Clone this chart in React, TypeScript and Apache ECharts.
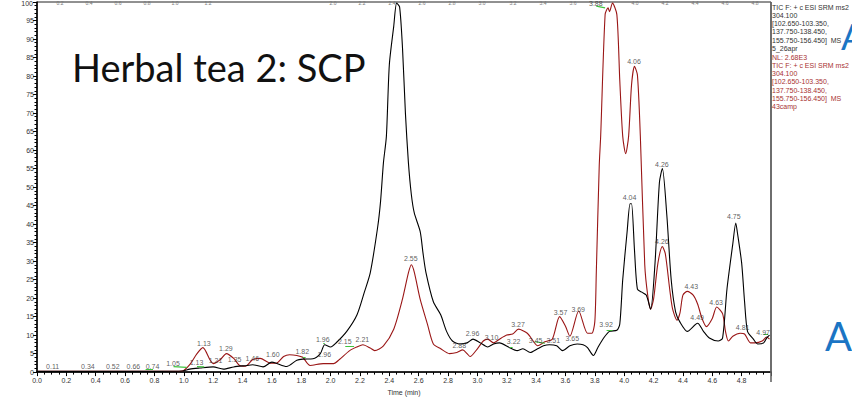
import React, { useEffect, useRef } from "react";
import * as echarts from "echarts";

// Black trace (upper file, 5_26apr): [time (min), relative abundance]
const blackTrace: number[][] = [
  [0, 0.2], [0.43, 0.2], [0.84, 0.2], [0.99, 0.3], [1.04, 0.8], [1.11, 1.1], [1.2, 1.4], [1.27, 0.8],
  [1.34, 1.4], [1.43, 1.8], [1.47, 2.0], [1.54, 1.4], [1.6, 2.7], [1.63, 2.4], [1.7, 1.5], [1.77, 3.2],
  [1.81, 3.5], [1.88, 3.6], [1.93, 5.0], [1.96, 7.4], [2.0, 6.8], [2.04, 8.0], [2.11, 11], [2.18, 15.5],
  [2.23, 21.6], [2.27, 26.8], [2.32, 39], [2.34, 46], [2.36, 56.6], [2.38, 63.7], [2.4, 83], [2.43, 93.4],
  [2.45, 99.7], [2.47, 98.7], [2.49, 87.4], [2.51, 69.7], [2.53, 56.6], [2.55, 48], [2.57, 43], [2.61, 38],
  [2.63, 32], [2.65, 26.8], [2.7, 19], [2.75, 15.5], [2.79, 11], [2.83, 8.4], [2.88, 7.6], [2.93, 7.9],
  [2.97, 8.9], [3.02, 7.9], [3.07, 6.8], [3.11, 7.6], [3.15, 7.9], [3.22, 6.6], [3.27, 5.8], [3.31, 6.3],
  [3.36, 5.3], [3.41, 6.3], [3.45, 7.1], [3.49, 7.4], [3.54, 7.1], [3.58, 5.8], [3.63, 7.1], [3.68, 7.6],
  [3.72, 7.4], [3.75, 6.6], [3.79, 4.5], [3.82, 6.6], [3.86, 9.2], [3.9, 11], [3.95, 11.3], [3.97, 13],
  [3.99, 25], [4.02, 38], [4.04, 45.5], [4.05, 45.5], [4.07, 33], [4.09, 22.4], [4.12, 21.6], [4.15, 20.8],
  [4.18, 17], [4.21, 29.5], [4.24, 51.3], [4.26, 55], [4.29, 42.6], [4.32, 25], [4.35, 16.3], [4.38, 13.5],
  [4.43, 11], [4.5, 13.2], [4.54, 11], [4.58, 9.2], [4.64, 8.4], [4.67, 9.2], [4.7, 22.4], [4.74, 34.7],
  [4.76, 40.3], [4.77, 38], [4.8, 29.5], [4.82, 19], [4.84, 11], [4.88, 8.9], [4.91, 7.6], [4.95, 7.9],
  [4.97, 9.2], [4.99, 10],
];

// Red trace (lower file, 43camp)
const redTrace: number[][] = [
  [0, 0.2], [0.43, 0.2], [0.84, 0.2], [0.99, 0.3], [1.04, 2], [1.09, 5], [1.13, 6.6], [1.18, 3.2],
  [1.2, 2.3], [1.25, 3.4], [1.29, 5.0], [1.34, 3.7], [1.38, 1.8], [1.42, 1.6], [1.47, 3.4], [1.52, 3.7],
  [1.59, 2.4], [1.63, 2.4], [1.68, 4.2], [1.72, 4.7], [1.77, 4.5], [1.81, 4.0], [1.86, 1.8], [1.95, 2.3],
  [2.02, 2.3], [2.06, 3.4], [2.13, 5.8], [2.18, 6.8], [2.22, 7.4], [2.27, 6.5], [2.3, 5.8], [2.36, 7.1],
  [2.43, 11.6], [2.49, 19.8], [2.53, 26.8], [2.55, 29], [2.57, 27], [2.61, 19.7], [2.66, 12.9], [2.7, 7.6],
  [2.75, 6.3], [2.81, 5.0], [2.86, 5.3], [2.9, 6.0], [2.93, 5.0], [2.95, 4.2], [3.0, 6.3], [3.04, 8.4],
  [3.07, 8.9], [3.11, 7.9], [3.15, 8.9], [3.2, 10], [3.24, 10.3], [3.28, 11.6], [3.34, 10.5], [3.38, 8.4],
  [3.41, 7.1], [3.46, 8.2], [3.51, 8.9], [3.56, 15], [3.6, 12.4], [3.63, 9.7], [3.69, 16.5], [3.75, 10.5],
  [3.78, 10.5], [3.8, 13.7], [3.81, 27], [3.83, 55.8], [3.84, 64], [3.87, 96.6], [3.89, 98.4], [3.9, 97.4],
  [3.92, 99.7], [3.95, 96.6], [3.97, 78.7], [3.99, 63.7], [4.01, 59], [4.03, 63.7], [4.05, 77.6], [4.07, 82.6],
  [4.09, 80.3], [4.11, 63.7], [4.14, 29], [4.16, 20.8], [4.18, 17], [4.2, 19.7], [4.23, 29.5], [4.26, 33.9],
  [4.28, 32], [4.31, 22.4], [4.33, 17], [4.36, 14], [4.38, 16], [4.4, 20.8], [4.43, 21.8], [4.47, 20.8],
  [4.5, 18.4], [4.53, 14.5], [4.56, 12.3], [4.6, 14.5], [4.63, 17.6], [4.67, 15.8], [4.69, 11], [4.71, 8.4],
  [4.74, 9.7], [4.79, 10.5], [4.82, 10.3], [4.86, 7.9], [4.89, 7.9], [4.94, 8.4], [4.97, 9.5], [4.99, 8.9],
];

// Peak retention-time annotations: [time, value at label centre, text]
const peakLabels: [number, number, string][] = [
  [0.11, 1.4, "0.11"], [0.35, 1.4, "0.34"], [0.52, 1.4, "0.52"], [0.66, 1.4, "0.66"], [0.79, 1.4, "0.74"],
  [0.93, 2.3, "1.05"], [1.09, 2.5, "1.13"], [1.14, 7.7, "1.13"], [1.22, 2.9, "1.21"], [1.29, 6.2, "1.29"],
  [1.35, 3.2, "1.35"], [1.47, 3.6, "1.46"], [1.61, 4.6, "1.60"], [1.81, 5.3, "1.82"], [1.95, 8.7, "1.96"],
  [1.96, 4.5, "1.96"], [2.1, 8.0, "2.15"], [2.22, 8.7, "2.21"], [2.55, 30.5, "2.55"], [2.88, 7.1, "2.88"],
  [2.97, 10.2, "2.96"], [3.1, 9.3, "3.10"], [3.25, 8.2, "3.22"], [3.28, 12.8, "3.27"], [3.4, 8.4, "3.45"],
  [3.52, 8.4, "3.51"], [3.57, 16.1, "3.57"], [3.65, 8.9, "3.65"], [3.69, 16.9, "3.69"], [3.88, 12.6, "3.92"],
  [3.81, 99.5, "3.88"], [4.07, 83.9, "4.06"], [4.04, 47, "4.04"], [4.26, 56, "4.26"], [4.26, 35.2, "4.26"],
  [4.75, 41.8, "4.75"], [4.46, 22.9, "4.43"], [4.5, 14.6, "4.49"], [4.63, 18.8, "4.63"], [4.81, 11.9, "4.81"],
  [4.95, 10.6, "4.97"],
];

// Green integration baseline marks: [t1, v1, t2, v2]
const baselineMarks: number[][] = [
  [0.74, 0.8, 0.79, 0.8], [0.93, 1.5, 1.02, 1.3], [1.09, 1.5, 1.14, 1.4], [1.81, 4.0, 1.83, 4.0],
  [1.95, 7.7, 1.96, 7.7], [2.1, 7.1, 2.16, 7.1], [3.22, 6.8, 3.24, 6.8], [3.39, 8.2, 3.46, 7.8],
  [3.88, 11.4, 3.92, 11.4], [3.81, 98.9, 3.87, 98.4], [4.95, 10.3, 4.98, 10.3],
];

const infoBlack = ["TIC F: + c ESI SRM ms2", "304.100", "[102.650-103.350,", "137.750-138.450,", "155.750-156.450]  MS", "5_26apr"];
const infoRed = ["NL: 2.68E3", "TIC F: + c ESI SRM ms2", "304.100", "[102.650-103.350,", "137.750-138.450,", "155.750-156.450]  MS", "43camp"];
const topFragmentTexts = ["0.2", "0.4", "0.6", "0.8", "1.0", "1.2", "2.0", "2.2", "2.4", "2.6", "2.8", "3.0", "3.2", "3.4", "3.6", "4.0", "4.2", "4.4", "4.6", "4.8"];
const topFragmentX = [60, 89, 118, 147, 175, 208, 333, 362, 392, 422, 452, 482, 513, 543, 573, 635, 665, 695, 725, 755];

const FONT = "'Liberation Sans', Arial, sans-serif";
const BLACK = "#000000";
const RED = "#9a1616";

export default function App() {
  const ref = useRef<HTMLDivElement>(null);
  useEffect(() => {
    if (!ref.current) return;
    const chart = echarts.init(ref.current, undefined, { renderer: "svg" });
    const graphics: any[] = [];
    graphics.push({
      type: "text", left: 72, top: 48, z: 10,
      style: { text: "Herbal tea 2: SCP", font: "38px Lato, 'Open Sans', sans-serif", fill: "#111" },
    });
    infoBlack.forEach((s, i) => {
      graphics.push({ type: "text", x: 772, y: 7 + i * 8.25, style: { text: s, font: `7px ${FONT}`, fill: "#333", verticalAlign: "middle" }, z: 12 });
    });
    infoRed.forEach((s, i) => {
      graphics.push({ type: "text", x: 772, y: 57 + i * 8.3, style: { text: s, font: `7px ${FONT}`, fill: "#a83232", verticalAlign: "middle" }, z: 12 });
    });
    graphics.push({ type: "text", x: 841, y: 54, style: { text: "A", font: "36px Lato, sans-serif", fill: "#1b75c4", verticalAlign: "bottom" }, z: 5 });
    graphics.push({ type: "text", x: 825, y: 356, style: { text: "A", font: "40px Lato, sans-serif", fill: "#1b75c4", verticalAlign: "bottom" }, z: 5 });
    // top-of-image fragments of the previous chart's time axis
    topFragmentTexts.forEach((s, i) => {
      graphics.push({ type: "text", x: topFragmentX[i], y: 0, style: { text: s, font: `5px ${FONT}`, fill: "#777", align: "center", verticalAlign: "top" }, z: 1 });
    });
    // "100" label of the y axis, kept inside the picture
    graphics.push({ type: "text", x: 33, y: 0, style: { text: "100", font: `7px ${FONT}`, fill: "#333", align: "right", verticalAlign: "top" }, z: 1 });
    // right frame
    graphics.push({ type: "line", shape: { x1: 771, y1: 2, x2: 771, y2: 382 }, style: { stroke: "#666", lineWidth: 1.6 }, z: 2 });

    chart.setOption({
      animation: false,
      grid: { left: 37, right: 81, top: 2, bottom: 19, show: true, borderColor: "#222", borderWidth: 1 },
      xAxis: {
        type: "value", min: 0, max: 5, interval: 0.2,
        name: "Time (min)", nameLocation: "middle", nameGap: 15,
        nameTextStyle: { fontSize: 7, fontFamily: FONT, color: "#333" },
        axisLine: { lineStyle: { color: "#000", width: 1.5 } },
        axisTick: { length: 4, lineStyle: { color: "#000" } },
        minorTick: { show: true, splitNumber: 4, length: 2.5, lineStyle: { color: "#000" } },
        axisLabel: { fontSize: 7, fontFamily: FONT, color: "#333", margin: 5, showMaxLabel: false, formatter: (v: number) => v.toFixed(1) },
        splitLine: { show: false },
      },
      yAxis: {
        type: "value", min: 0, max: 100, interval: 5,
        axisLine: { show: true, lineStyle: { color: "#000", width: 1.5 } },
        axisTick: { show: true, length: 4, lineStyle: { color: "#000" } },
        minorTick: { show: true, splitNumber: 5, length: 2.5, lineStyle: { color: "#000" } },
        axisLabel: { fontSize: 7, fontFamily: FONT, color: "#333", margin: 3, showMaxLabel: false },
        splitLine: { show: false },
      },
      series: [
        { type: "line", data: blackTrace, smooth: 0.25, symbol: "none", lineStyle: { color: BLACK, width: 1.1 }, z: 3 },
        { type: "line", data: redTrace, smooth: 0.25, symbol: "none", lineStyle: { color: RED, width: 1.1 }, z: 2 },
        {
          type: "lines", coordinateSystem: "cartesian2d", z: 4,
          lineStyle: { color: "#3fc43f", width: 1.2, opacity: 1 },
          data: baselineMarks.map((m) => ({ coords: [[m[0], m[1]], [m[2], m[3]]] })),
        },
        {
          type: "scatter", symbol: "circle", symbolSize: 1, z: 6, silent: true,
          itemStyle: { color: "rgba(0,0,0,0)" },
          data: peakLabels.map((p) => ({ value: [p[0], p[1]], name: p[2] })),
          label: {
            show: true, position: [0, 0], align: "center", verticalAlign: "middle",
            formatter: (p: any) => p.name, fontSize: 7, fontFamily: FONT,
            color: "#333333", textBorderWidth: 0,
          },
        },
      ],
      graphic: graphics,
    });
    return () => chart.dispose();
  }, []);
  return <div ref={ref} style={{ position: "fixed", left: 0, top: 0, width: 852, height: 401, background: "#fff" }} />;
}
